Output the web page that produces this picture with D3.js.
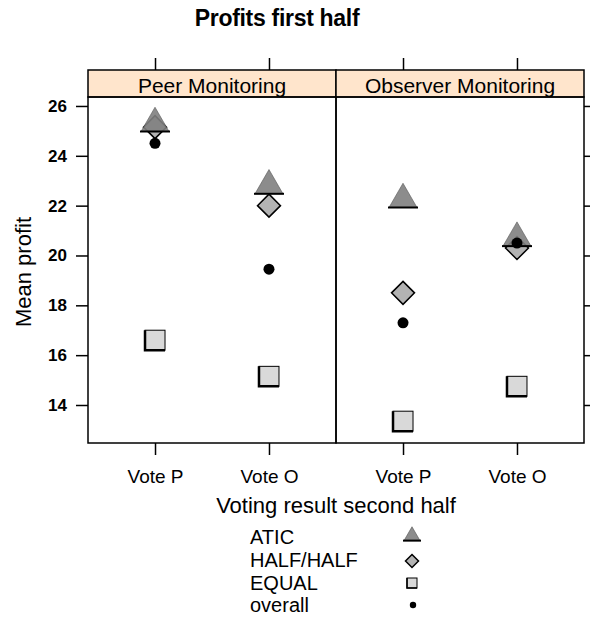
<!DOCTYPE html>
<html>
<head>
<meta charset="utf-8">
<script src="https://cdn.jsdelivr.net/npm/d3@7"></script>
<style>
  html, body { margin: 0; padding: 0; background: #fff; }
  svg { display: block; }
  text { font-family: "Liberation Sans", Arial, Helvetica, sans-serif; }
</style>
</head>
<body>
<script>
// Panels (monitoring treatment) and categories on the x axis
const panels = ["Peer Monitoring", "Observer Monitoring"];
const votes = ["Vote P", "Vote O"];

// Mean profit per group, one pair per panel: [Vote P, Vote O]
const aticValues    = [[25.3, 22.8], [22.25, 20.7]];
const halfValues    = [[25.15, 22.0], [18.5, 20.3]];
const equalValues   = [[16.6, 15.15], [13.35, 14.75]];
const overallValues = [[24.5, 19.45], [17.3, 20.5]];

const yTicks = [14, 16, 18, 20, 22, 24, 26];
const legendLabels = ["ATIC", "HALF/HALF", "EQUAL", "overall"];

const W = 590, H = 619;
const plotLeft = 88, plotRight = 584, stripTop = 70, stripBottom = 97, plotBottom = 443;
const panelW = (plotRight - plotLeft) / panels.length;

const svg = d3.select("body").append("svg").attr("width", W).attr("height", H);

const y = d3.scaleLinear().domain([12.475, 26.36]).range([plotBottom, stripBottom]);

// Marker shapes
function triPath(cx, cy, w) {
  const h = w * Math.sqrt(3) / 2;
  return `M${cx},${cy - 2 * h / 3}L${cx + w / 2},${cy + h / 3}L${cx - w / 2},${cy + h / 3}Z`;
}
function diaPath(cx, cy, r) {
  return `M${cx},${cy - r}L${cx + r},${cy}L${cx},${cy + r}L${cx - r},${cy}Z`;
}

function drawTriangle(g, cx, cy, w) {
  const h = w * Math.sqrt(3) / 2;
  g.append("path").attr("d", triPath(cx, cy, w))
    .attr("fill", "#808080").attr("fill-opacity", 0.9)
    .attr("stroke", "#555").attr("stroke-width", 0.6);
  g.append("line")
    .attr("x1", cx - w / 2 - 1).attr("x2", cx + w / 2 + 1)
    .attr("y1", cy + h / 3).attr("y2", cy + h / 3)
    .attr("stroke", "#000").attr("stroke-width", 2);
}
function drawDiamond(g, cx, cy, r) {
  g.append("path").attr("d", diaPath(cx, cy, r))
    .attr("fill", "#b3b3b3").attr("stroke", "#000").attr("stroke-width", 1.5);
}
function drawSquare(g, cx, cy, r, thick) {
  g.append("rect").attr("x", cx - r).attr("y", cy - r)
    .attr("width", 2 * r).attr("height", 2 * r)
    .attr("fill", "#d9d9d9").attr("stroke", "#000").attr("stroke-width", 1);
  g.append("path")
    .attr("d", `M${cx - r},${cy - r}L${cx - r},${cy + r}L${cx + r},${cy + r}`)
    .attr("fill", "none").attr("stroke", "#000").attr("stroke-width", thick);
}
function drawDot(g, cx, cy, r) {
  g.append("circle").attr("cx", cx).attr("cy", cy).attr("r", r).attr("fill", "#000");
}

// Title
svg.append("text").attr("x", 277).attr("y", 26)
  .attr("text-anchor", "middle").attr("font-size", 23).attr("font-weight", "bold")
  .attr("letter-spacing", -0.3)
  .text("Profits first half");

panels.forEach((name, p) => {
  const x0 = plotLeft + p * panelW;
  const x = d3.scalePoint().domain(votes).range([x0, x0 + panelW]).padding(0.588);
  const g = svg.append("g");

  // strip
  g.append("rect").attr("x", x0).attr("y", stripTop).attr("width", panelW)
    .attr("height", stripBottom - stripTop)
    .attr("fill", "#ffe5cc").attr("stroke", "#000").attr("stroke-width", 1.5);
  g.append("text").attr("x", x0 + panelW / 2).attr("y", 93)
    .attr("text-anchor", "middle").attr("font-size", 21).text(name);

  // panel frame
  g.append("rect").attr("x", x0).attr("y", stripBottom).attr("width", panelW)
    .attr("height", plotBottom - stripBottom)
    .attr("fill", "none").attr("stroke", "#000").attr("stroke-width", 1.5);

  // top ticks
  g.append("g").attr("transform", `translate(0,${stripTop})`)
    .call(d3.axisTop(x).tickSize(12).tickFormat(""))
    .call(a => a.select(".domain").remove())
    .call(a => a.selectAll("line").attr("stroke-width", 1.5));

  // bottom axis
  g.append("g").attr("transform", `translate(0,${plotBottom})`)
    .call(d3.axisBottom(x).tickSize(12))
    .call(a => a.select(".domain").remove())
    .call(a => a.selectAll("line").attr("stroke-width", 1.5))
    .call(a => a.selectAll("text").attr("y", 40).attr("dy", 0)
      .attr("font-size", 19).attr("fill", "#000")
      .style("font-family", "'Liberation Sans', Arial, sans-serif"));

  // markers
  votes.forEach((v, i) => {
    const cx = x(v);
    drawDiamond(g, cx, y(halfValues[p][i]), 11.5);
    drawTriangle(g, cx, y(aticValues[p][i]), 28);
    drawSquare(g, cx, y(equalValues[p][i]), 10, 2.5);
    drawDot(g, cx, y(overallValues[p][i]), 5.5);
  });
});

// y axes: labelled on the left, ticks only on the right
svg.append("g").attr("transform", `translate(${plotLeft},0)`)
  .call(d3.axisLeft(y).tickValues(yTicks).tickSize(12).tickPadding(9))
  .call(a => a.select(".domain").remove())
  .call(a => a.selectAll("line").attr("stroke-width", 1.5))
  .call(a => a.selectAll("text").attr("font-size", 17).attr("font-weight", "bold")
    .attr("fill", "#000").style("font-family", "'Liberation Sans', Arial, sans-serif"));
svg.append("g").attr("transform", `translate(${plotRight},0)`)
  .call(d3.axisRight(y).tickValues(yTicks).tickSize(12).tickFormat(""))
  .call(a => a.select(".domain").remove())
  .call(a => a.selectAll("line").attr("stroke-width", 1.5));

// axis titles
svg.append("text").attr("transform", "translate(31,272) rotate(-90)")
  .attr("text-anchor", "middle").attr("font-size", 22).text("Mean profit");
svg.append("text").attr("x", 336).attr("y", 513)
  .attr("text-anchor", "middle").attr("font-size", 22).text("Voting result second half");

// legend
const legend = svg.append("g");
const rowY = [544, 567, 590, 612];
legendLabels.forEach((lab, i) => {
  legend.append("text").attr("x", 250).attr("y", rowY[i]).attr("font-size", 20).text(lab);
});
const lx = 412;
drawTriangle(legend, lx, 536, 16);
drawDiamond(legend, lx, 561, 6.5);
drawSquare(legend, lx, 583, 5, 1.5);
drawDot(legend, lx + 1, 605, 3.2);
</script>
</body>
</html>
